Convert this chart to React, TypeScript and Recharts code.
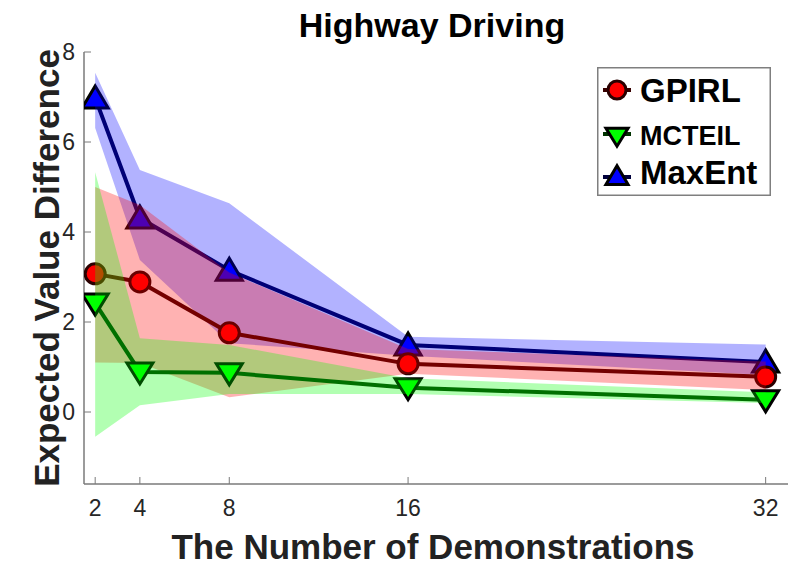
import { Area, ComposedChart, Label, Line, XAxis, YAxis } from "recharts";

// number of demonstrations on the x axis
const demos = [2, 4, 8, 16, 32];

// GPIRL: mean and shaded band
const gpirlMean = [3.07, 2.89, 1.76, 1.07, 0.78];
const gpirlLow = [1.1, 1.09, 0.33, 0.85, 0.49];
const gpirlHigh = [5.0, 4.6, 3.1, 1.4, 1.12];

// MCTEIL
const mcteilMean = [2.42, 0.89, 0.87, 0.54, 0.27];
const mcteilLow = [-0.55, 0.15, 0.4, 0.4, 0.2];
const mcteilHigh = [5.33, 1.64, 1.49, 0.75, 0.44];

// MaxEnt
const maxentMean = [6.98, 4.31, 3.15, 1.49, 1.11];
const maxentLow = [6.31, 3.38, 1.53, 1.25, 0.82];
const maxentHigh = [7.54, 5.38, 4.64, 1.67, 1.5];

const xTicks = [2, 4, 8, 16, 32];
const yTicks = [0, 2, 4, 6, 8];

const FONT = "'Liberation Sans', Arial, Helvetica, sans-serif";
const AXIS = "#7a7a7a";
const TICK_TEXT = "#262626";

const W = 792;
const H = 566;
const X_DOMAIN = [1.5, 33];
const Y_DOMAIN = [-1.6, 8];

const data = demos.map((n, i) => ({
  n,
  gpirl: gpirlMean[i],
  gpirlBand: [gpirlLow[i], gpirlHigh[i]],
  mcteil: mcteilMean[i],
  mcteilBand: [mcteilLow[i], mcteilHigh[i]],
  maxent: maxentMean[i],
  maxentBand: [maxentLow[i], maxentHigh[i]],
}));

function Circle({ cx, cy, r = 10 }: any) {
  return <circle cx={cx} cy={cy} r={r} fill="#ff0000" stroke="#2a0000" strokeWidth={3} />;
}

function DownTri({ cx, cy, s = 1 }: any) {
  const pts = `${cx - 13 * s},${cy - 9 * s} ${cx + 13 * s},${cy - 9 * s} ${cx},${cy + 12 * s}`;
  return <polygon points={pts} fill="#00ff00" stroke="#000000" strokeWidth={3} strokeLinejoin="miter" />;
}

function UpTri({ cx, cy, s = 1 }: any) {
  const pts = `${cx - 13 * s},${cy + 10 * s} ${cx + 13 * s},${cy + 10 * s} ${cx},${cy - 12 * s}`;
  return <polygon points={pts} fill="#0000ff" stroke="#000000" strokeWidth={3} strokeLinejoin="miter" />;
}

function XTick({ x, y, payload }: any) {
  return (
    <g>
      <line x1={x} x2={x} y1={y} y2={y - 7} stroke={AXIS} strokeWidth={1} />
      <text x={x} y={y + 32} textAnchor="middle" fontSize={23} fill={TICK_TEXT} fontFamily={FONT}>
        {payload.value}
      </text>
    </g>
  );
}

function YTick({ x, y, payload }: any) {
  return (
    <g>
      <line x1={x} x2={x + 7} y1={y} y2={y} stroke={AXIS} strokeWidth={1} />
      <text x={x - 9} y={y + 8} textAnchor="end" fontSize={23} fill={TICK_TEXT} fontFamily={FONT}>
        {payload.value}
      </text>
    </g>
  );
}

function LegendBox() {
  return (
    <svg width={174} height={129} style={{ position: "absolute", left: 597, top: 67 }}>
      <rect x={0.75} y={0.75} width={172.5} height={127.5} fill="#ffffff" stroke="#7f7f7f" strokeWidth={1.5} />
      <line x1={6} x2={34} y1={23} y2={23} stroke="#380000" strokeWidth={4} />
      <Circle cx={20} cy={23} r={9} />
      <text x={43} y={35} fontSize={33} fontWeight="bold" fontFamily={FONT} fill="#000">GPIRL</text>
      <line x1={6} x2={34} y1={67} y2={67} stroke="#003300" strokeWidth={4} />
      <DownTri cx={20} cy={69} s={0.85} />
      <text x={43} y={78} fontSize={27} fontWeight="bold" fontFamily={FONT} fill="#000">MCTEIL</text>
      <line x1={6} x2={34} y1={110} y2={110} stroke="#00003c" strokeWidth={4} />
      <UpTri cx={20} cy={109} s={0.85} />
      <text x={43} y={117} fontSize={33} fontWeight="bold" fontFamily={FONT} fill="#000">MaxEnt</text>
    </svg>
  );
}

// One transparent chart per drawing layer, stacked in DOM order, so that each
// band is painted over the lines that come before it.
function Overlay({ children }: any) {
  return (
    <div style={{ position: "absolute", left: 0, top: 0 }}>
      <ComposedChart width={W} height={H} data={data} margin={{ top: 52, right: 4, left: 84, bottom: 82 }}>
        <XAxis dataKey="n" type="number" domain={X_DOMAIN} hide allowDataOverflow />
        <YAxis type="number" domain={Y_DOMAIN} hide allowDataOverflow />
        {children}
      </ComposedChart>
    </div>
  );
}

function meanLine(key: string, stroke: string, Marker: any) {
  return (
    <Overlay>
      <Line
        dataKey={key}
        type="linear"
        stroke={stroke}
        strokeWidth={4}
        dot={(p: any) => <Marker key={`${key}${p.index}`} cx={p.cx} cy={p.cy} />}
        activeDot={false}
        isAnimationActive={false}
      />
    </Overlay>
  );
}

function band(key: string, fill: string) {
  return (
    <Overlay>
      <Area
        dataKey={key}
        type="linear"
        stroke="none"
        fill={fill}
        fillOpacity={0.3}
        activeDot={false}
        isAnimationActive={false}
      />
    </Overlay>
  );
}

function AxesChart() {
  return (
    <div style={{ position: "absolute", left: 0, top: 0 }}>
      <ComposedChart width={W} height={H} data={data} margin={{ top: 52, right: 4, left: 0, bottom: 0 }}>
        <XAxis
          dataKey="n"
          type="number"
          domain={X_DOMAIN}
          ticks={xTicks}
          height={82}
          tickSize={0}
          tickMargin={0}
          tickLine={false}
          tick={XTick}
          axisLine={{ stroke: AXIS, strokeWidth: 1.5 }}
          allowDataOverflow
        >
          <Label
            content={({ viewBox }: any) => (
              <text
                x={viewBox.x + viewBox.width / 2 - 3}
                y={viewBox.y + 75}
                textAnchor="middle"
                fontSize={35}
                fontWeight="bold"
                fill="#222"
                fontFamily={FONT}
              >
                The Number of Demonstrations
              </text>
            )}
          />
        </XAxis>
        <YAxis
          type="number"
          domain={Y_DOMAIN}
          ticks={yTicks}
          width={84}
          tickSize={0}
          tickMargin={0}
          tickLine={false}
          tick={YTick}
          axisLine={{ stroke: AXIS, strokeWidth: 1.5 }}
          allowDataOverflow
        >
          <Label
            content={({ viewBox }: any) => {
              const cx = 46;
              const cy = viewBox.y + viewBox.height / 2;
              return (
                <text
                  x={cx}
                  y={cy}
                  transform={`rotate(-90 ${cx} ${cy})`}
                  textAnchor="middle"
                  dominantBaseline="central"
                  fontSize={35}
                  fontWeight="bold"
                  fill="#222"
                  fontFamily={FONT}
                >
                  Expected Value Difference
                </text>
              );
            }}
          />
        </YAxis>
      </ComposedChart>
    </div>
  );
}

export default function App() {
  return (
    <div style={{ position: "absolute", left: 0, top: 0, width: W, height: H, background: "#fff", fontFamily: FONT }}>
      <div
        style={{
          position: "absolute",
          left: 0,
          width: 864,
          top: 6,
          textAlign: "center",
          fontSize: 34,
          fontWeight: "bold",
          color: "#000",
        }}
      >
        Highway Driving
      </div>
      <AxesChart />
      {meanLine("maxent", "#00003c", UpTri)}
      {band("maxentBand", "#0000ff")}
      {meanLine("gpirl", "#380000", Circle)}
      {band("gpirlBand", "#ff0000")}
      {meanLine("mcteil", "#003300", DownTri)}
      {band("mcteilBand", "#00ff00")}
      <LegendBox />
    </div>
  );
}
